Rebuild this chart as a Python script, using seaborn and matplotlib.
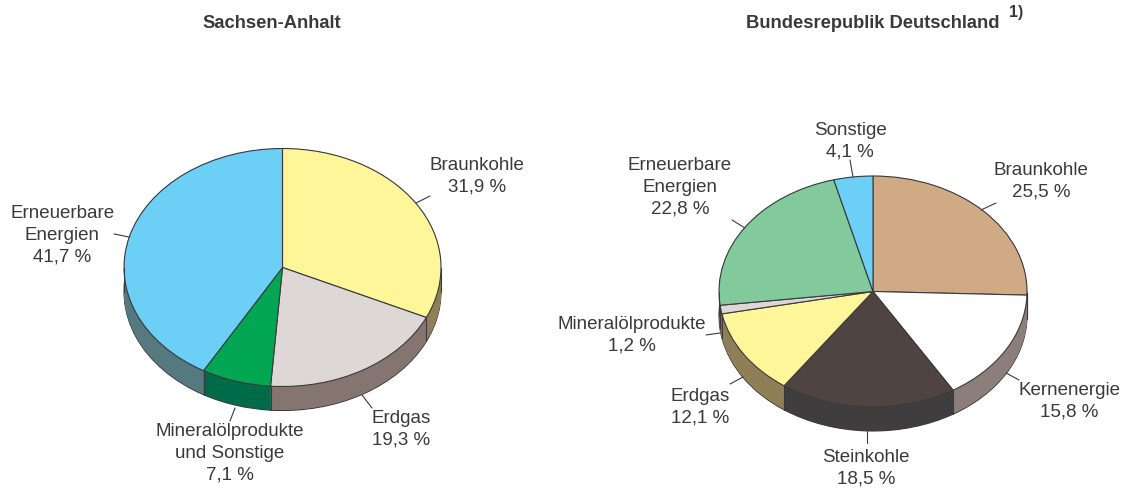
import numpy as np
import matplotlib
matplotlib.use("Agg")
import matplotlib.pyplot as plt
import seaborn as sns

W, H = 1127, 488
sns.set_theme(style="white")
plt.rcParams['font.family'] = ['Liberation Sans', 'DejaVu Sans']

# Data
st_names = ["Braunkohle", "Erdgas", "Mineralölprodukte\nund Sonstige", "Erneuerbare\nEnergien"]
st_values = [31.9, 19.3, 7.1, 41.7]
de_names = ["Braunkohle", "Kernenergie", "Steinkohle", "Erdgas", "Mineralölprodukte", "Erneuerbare\nEnergien", "Sonstige"]
de_values = [25.5, 15.8, 18.5, 12.1, 1.2, 22.8, 4.1]

# Styles
st_top = ["#FFF599", "#DDD8D5", "#00A651", "#6BCFF6"]
st_side = ["#8F7F57", "#857570", "#006B48", "#55797F"]
de_top = ["#CFAA84", "#FFFFFF", "#4F4442", "#FFF599", "#DDD8D5", "#82CA9C", "#6BCFF6"]
de_side = ["#8F7F57", "#8C7F7B", "#403D3E", "#8F7F57", "#77716C", "#4A6B58", "#55797F"]
INK = "#3A3A3C"
st_label_xy = [(477, 176.5), (401, 429.5), (229.5, 453.5), (62.5, 235.5)]
de_label_xy = [(1041, 181.5), (1069, 401.5), (866, 468.5), (700, 407.5), (632, 335.5), (680, 187.5), (850, 141.5)]
st_leaders = [((416, 203), (430, 196)), ((362, 395), (372, 408)), ((235, 408), (230, 421)), ((114, 234), (129, 237))]
de_leaders = [((981, 210), (996, 203)), ((1006, 373), (1019, 380)), ((867, 431), (867, 443)),
              ((730, 384), (743, 377)), ((706, 335), (720, 333)), ((732, 220), (745, 228)), ((850, 160), (853, 177))]


def pie3d(fig, values, top, side, cx, cy, rx, ry, depth):
    d = depth / ry
    pad = 4
    ax = fig.add_axes([(cx - rx - pad) / W, 1 - (cy + ry + depth + pad) / H,
                       (2 * rx + 2 * pad) / W, (2 * ry + depth + 2 * pad) / H])
    edge = dict(edgecolor=INK, linewidth=0.8)
    # lowest layer carries the outline of the lower rim
    ax.pie(values, colors=side, startangle=90, counterclock=False, radius=1,
           center=(0, -d), wedgeprops=edge)
    for off in np.linspace(d, 0, int(depth * 2))[1:]:
        ax.pie(values, colors=side, startangle=90, counterclock=False, radius=1,
               center=(0, -off), wedgeprops=dict(linewidth=0, edgecolor="none"))
    ax.set_aspect("auto")
    # wedge borders running down the visible rim
    ang = np.pi / 2 - np.cumsum(values) / np.sum(values) * 2 * np.pi
    for a in ang:
        if np.sin(a) < 0:
            ax.plot([np.cos(a)] * 2, [np.sin(a), np.sin(a) - d], color=INK, lw=0.8)
    for sx in (-1, 1):
        ax.plot([sx, sx], [0, -d], color=INK, lw=0.8)
    ax.pie(values, colors=top, startangle=90, counterclock=False, radius=1,
           center=(0, 0), wedgeprops=edge)
    ax.set_aspect("auto")
    ax.set_xlim(-1 - pad / rx, 1 + pad / rx)
    ax.set_ylim(-1 - d - pad / ry, 1 + pad / ry)
    ax.axis("off")


fig = plt.figure(figsize=(W / 100, H / 100), dpi=100, facecolor="white")
pie3d(fig, st_values, st_top, st_side, 282.5, 267.5, 158.5, 119, 24)
pie3d(fig, de_values, de_top, de_side, 873, 291.5, 154, 115.5, 24)

ov = fig.add_axes([0, 0, 1, 1], zorder=5)
ov.set_xlim(0, W)
ov.set_ylim(H, 0)
ov.axis("off")
ov.patch.set_alpha(0)


def annotate(names, values, xys, leaders):
    for n, v, (x, y), (p, q) in zip(names, values, xys, leaders):
        txt = n + "\n" + f"{v:.1f} %".replace(".", ",")
        ov.text(x, y, txt, ha="center", va="center", fontsize=13.5, color=INK, linespacing=1.38)
        ov.plot([p[0], q[0]], [p[1], q[1]], color=INK, lw=0.8)


annotate(st_names, st_values, st_label_xy, st_leaders)
annotate(de_names, de_values, de_label_xy, de_leaders)
ov.text(272, 23, "Sachsen-Anhalt", ha="center", va="center", fontsize=13.2, fontweight="bold", color=INK)
ov.text(873, 23, "Bundesrepublik Deutschland", ha="center", va="center", fontsize=13.2, fontweight="bold", color=INK)
ov.text(1016, 12, "1)", ha="center", va="center", fontsize=11.5, fontweight="bold", color=INK)

fig.savefig("out.png", dpi=100, facecolor="white")
